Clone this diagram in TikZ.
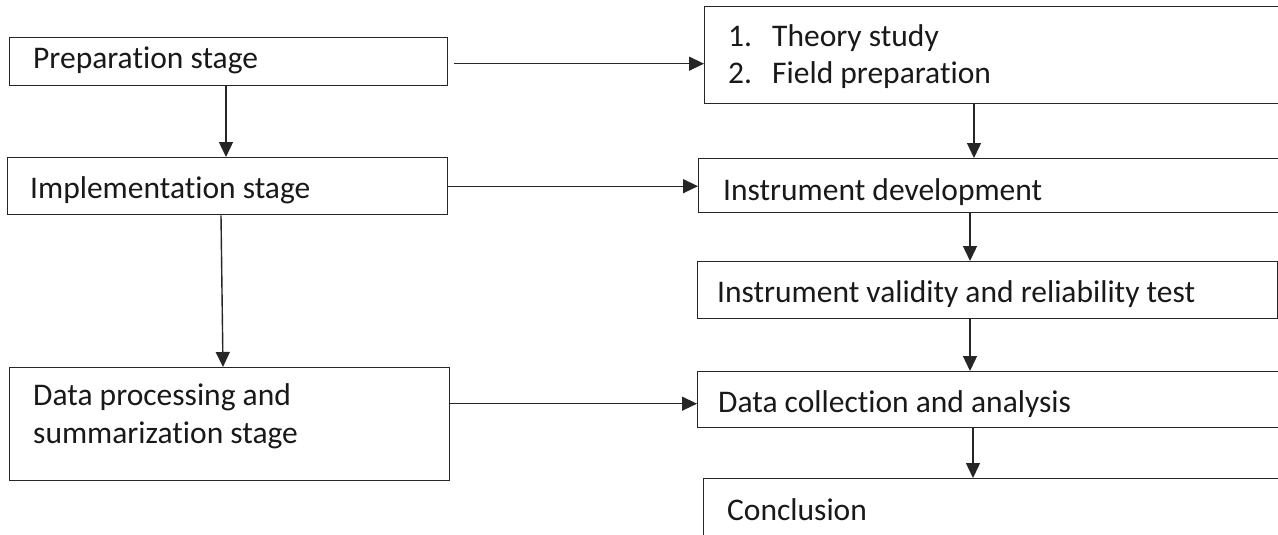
\documentclass[tikz,border=0pt]{standalone}
\usepackage{fontspec}
\setmainfont{Carlito}[Ligatures=NoCommon]
\usetikzlibrary{arrows.meta,calc}
\begin{document}
\begin{tikzpicture}[x=1pt,y=-1pt,
  stagebox/.style={draw=black!85,line width=1.4pt,inner sep=0pt,anchor=north west},
  lbl/.style={anchor=base west,inner sep=0pt,font=\fontsize{31.5}{38}\selectfont,text=black!90},
  arr/.style={draw=black!85,line width=1.4pt,-{Triangle[length=15pt,width=14pt]}}]
\useasboundingbox (0,0) rectangle (1278,535);
\clip (0,0) rectangle (1278,535);
\fill[white] (0,0) rectangle (1278,535);
% left boxes
\node[stagebox,minimum width=438pt,minimum height=48pt] (prep) at (9,37) {};
\node[stagebox,minimum width=440pt,minimum height=57pt] (impl) at (7,157) {};
\node[stagebox,minimum width=440pt,minimum height=113pt] (data) at (9,367) {};
% right boxes
\node[stagebox,minimum width=600pt,minimum height=97pt] (theory) at (704,6) {};
\node[stagebox,minimum width=600pt,minimum height=54pt] (instr) at (698,158) {};
\node[stagebox,minimum width=580pt,minimum height=57pt] (valid) at (697,261) {};
\node[stagebox,minimum width=600pt,minimum height=56pt] (coll) at (697,371) {};
\node[stagebox,minimum width=600pt,minimum height=100pt] (concl) at (703,478) {};
% texts
\node[lbl] (tprep) at (33,69) {Preparation stage};
\node[lbl] (timpl) at (30,198) {Implementation stage};
\node[lbl] (tdata1) at (33,405) {Data processing and};
\node[lbl] (tdata2) at (33,443) {summarization stage};
\node[lbl] (tth1n) at (728,47) {1.};
\node[lbl] (tth1) at (772,47) {Theory study};
\node[lbl] (tth2n) at (728,84) {2.};
\node[lbl] (tth2) at (772,84) {Field preparation};
\node[lbl] (tinstr) at (723,200) {Instrument development};
\node[lbl] (tvalid) at (717,302) {Instrument validity and reliability test};
\node[lbl] (tcoll) at (718,412) {Data collection and analysis};
\node[lbl] (tconcl) at (727,520) {Conclusion};
% connectors
\draw[arr] ([xshift=217pt]prep.south west) -- ([xshift=217pt]prep.south west |- impl.north);
\draw[arr] ([xshift=214pt]impl.south west) -- ([xshift=214pt]data.north west);
\draw[arr] ([xshift=6pt,yshift=-2pt]prep.east) -- ([yshift=-2pt]theory.west |- prep.east);
\draw[arr] (impl.east) -- (instr.west |- impl.east);
\draw[arr] ([yshift=-4pt]coll.west -| data.east) -- ([yshift=-4pt]coll.west);
\draw[arr] ([xshift=270pt]theory.south west) -- ([xshift=270pt]theory.south west |- instr.north);
\draw[arr] ([xshift=272pt]instr.south west) -- ([xshift=272pt]instr.south west |- valid.north);
\draw[arr] ([xshift=273pt]valid.south west) -- ([xshift=273pt]valid.south west |- coll.north);
\draw[arr] ([xshift=276pt]coll.south west) -- ([xshift=276pt]coll.south west |- concl.north);
\end{tikzpicture}
\end{document}
